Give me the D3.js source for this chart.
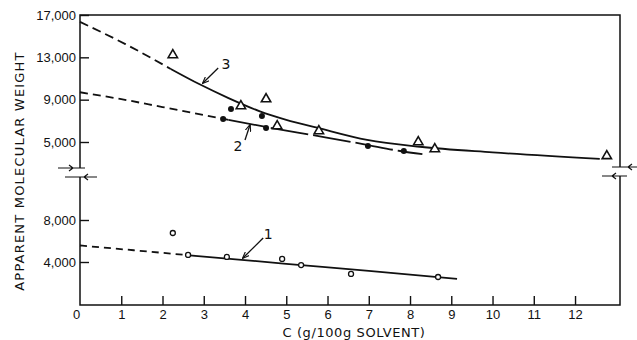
<!DOCTYPE html>
<html lang="en">
<head>
<meta charset="utf-8">
<title>Apparent molecular weight</title>
<script src="https://cdn.jsdelivr.net/npm/d3@7"></script>
<style>
  body { margin: 0; background: #fff; }
  svg { display: block; font-family: "DejaVu Sans", sans-serif; }
  .tick text { font-size: 13px; fill: #111; }
  .tick line { stroke: #111; stroke-width: 1.4; }
</style>
</head>
<body>
<script>
// x ticks
var xTicks = [0, 1, 2, 3, 4, 5, 6, 7, 8, 9, 10, 11, 12];
var yTopTicks = [5000, 9000, 13000, 17000];
var yBotTicks = [4000, 8000];

// curve 3 (upper panel)
var curve3Dash = [[0, 16350], [1.1, 14250], [2.2, 11900]];
var curve3Solid = [[2.2, 11900], [2.9, 10450], [3.6, 9150], [4.36, 7900], [5, 7100], [5.75, 6350], [6.96, 5200], [8.24, 4550], [10, 4020], [12.6, 3400]];
// curve 2 (upper panel)
var curve2Dash = [[0, 9700], [1, 9050], [2, 8300], [3, 7550], [3.6, 7100]];
var curve2Long = [[3.6, 7100], [4.65, 6320], [5.62, 5660], [6.86, 4810], [7.76, 4150], [8.3, 3850]];
// curve 1 (lower panel)
var curve1Dash = [[0, 5570], [1.3, 5120], [2.65, 4640]];
var curve1Solid = [[2.65, 4640], [5, 3830], [7, 3160], [9.14, 2400]];

// measured points
var triangles = [[2.25, 13220], [3.9, 8400], [4.51, 9060], [4.78, 6510], [5.79, 6040], [8.2, 5000], [8.6, 4340], [12.77, 3680]];
var dots = [[3.47, 7170], [3.66, 8120], [4.41, 7450], [4.51, 6320], [6.98, 4620], [7.85, 4150]];
var circles = [[2.25, 6760], [2.62, 4670], [3.56, 4480], [4.9, 4290], [5.36, 3710], [6.57, 2860], [8.68, 2570]];

var w = 637, h = 340;

var x = d3.scaleLinear().domain([0, 13.09]).range([80, 620]);
var yTop = d3.scaleLinear().domain([5000, 17000]).range([142, 15]);
var yBot = d3.scaleLinear().domain([0, 8000]).range([304, 220]);

var svg = d3.select("body").append("svg")
  .attr("width", w)
  .attr("height", h);

// frame
var frame = svg.append("g")
  .attr("stroke", "#111")
  .attr("stroke-width", 1.5)
  .attr("fill", "none");
frame.append("path").attr("d", "M80,168V15H620V167");
frame.append("path").attr("d", "M80,177V305H620V176");

// axis break marks
var brk = svg.append("g").attr("stroke", "#111").attr("stroke-width", 1.2).attr("fill", "none");
brk.append("path").attr("d", "M58,168H85 M69,165L73,168L69,171");
brk.append("path").attr("d", "M65,177H97 M88,174L84,177L88,180");
brk.append("path").attr("d", "M612,167H637 M632,164L628,167L632,170");
brk.append("path").attr("d", "M602,176H627 M616,173L612,176L616,179");

// axes
var gx = svg.append("g")
  .attr("transform", "translate(0,305)")
  .call(d3.axisBottom(x).tickValues(xTicks).tickSize(-9).tickPadding(5)
    .tickFormat(function(d) { return d; }));
gx.select(".domain").remove();
gx.selectAll(".tick").filter(function(d) { return d === 0; }).select("line").remove();
gx.selectAll(".tick").filter(function(d) { return d === 0; }).select("text").attr("dx", "-4");

var gyTop = svg.append("g")
  .attr("transform", "translate(80,0)")
  .call(d3.axisLeft(yTop).tickValues(yTopTicks).tickSize(-9).tickPadding(4)
    .tickFormat(d3.format(",")));
gyTop.select(".domain").remove();

var gyBot = svg.append("g")
  .attr("transform", "translate(80,0)")
  .call(d3.axisLeft(yBot).tickValues(yBotTicks).tickSize(-9).tickPadding(4)
    .tickFormat(d3.format(",")));
gyBot.select(".domain").remove();

// titles
svg.append("text")
  .attr("x", 354).attr("y", 337)
  .attr("text-anchor", "middle")
  .style("font-size", "13px")
  .style("letter-spacing", "0.6px")
  .attr("fill", "#111")
  .text("C (g/100g SOLVENT)");

svg.append("text")
  .attr("transform", "translate(24,171) rotate(-90)")
  .attr("text-anchor", "middle")
  .style("font-size", "13px")
  .style("letter-spacing", "1.2px")
  .attr("fill", "#111")
  .text("APPARENT MOLECULAR WEIGHT");

// curves
function lineFor(ys) {
  return d3.line()
    .x(function(d) { return x(d[0]); })
    .y(function(d) { return ys(d[1]); })
    .curve(d3.curveMonotoneX);
}
var curves = [
  { pts: curve3Dash, y: yTop, dash: "9,5" },
  { pts: curve3Solid, y: yTop, dash: null },
  { pts: curve2Dash, y: yTop, dash: "8,5" },
  { pts: curve2Long, y: yTop, dash: "38,5" },
  { pts: curve1Dash, y: yBot, dash: "7,5" },
  { pts: curve1Solid, y: yBot, dash: null }
];
svg.append("g").selectAll("path")
  .data(curves)
  .enter()
  .append("path")
  .attr("d", function(d) { return lineFor(d.y)(d.pts); })
  .attr("fill", "none")
  .attr("stroke", "#111")
  .attr("stroke-width", 1.8)
  .attr("stroke-dasharray", function(d) { return d.dash; });

// points
svg.append("g").selectAll("path")
  .data(triangles)
  .enter()
  .append("path")
  .attr("d", d3.symbol().type(d3.symbolTriangle).size(38))
  .attr("transform", function(d) { return "translate(" + x(d[0]) + "," + yTop(d[1]) + ")"; })
  .attr("fill", "#fff")
  .attr("stroke", "#111")
  .attr("stroke-width", 1.6);

svg.append("g").selectAll("circle")
  .data(dots)
  .enter()
  .append("circle")
  .attr("cx", function(d) { return x(d[0]); })
  .attr("cy", function(d) { return yTop(d[1]); })
  .attr("r", 3)
  .attr("fill", "#111");

svg.append("g").selectAll("circle")
  .data(circles)
  .enter()
  .append("circle")
  .attr("cx", function(d) { return x(d[0]); })
  .attr("cy", function(d) { return yBot(d[1]); })
  .attr("r", 2.5)
  .attr("fill", "#fff")
  .attr("stroke", "#111")
  .attr("stroke-width", 1.3);

// curve labels with arrows
var defs = svg.append("defs");
defs.append("marker")
  .attr("id", "head")
  .attr("viewBox", "0 0 10 10")
  .attr("refX", 9).attr("refY", 5)
  .attr("markerWidth", 7).attr("markerHeight", 7)
  .attr("markerUnits", "userSpaceOnUse")
  .attr("orient", "auto")
  .append("path")
  .attr("d", "M0,1L10,5L0,9")
  .attr("fill", "none")
  .attr("stroke", "#111")
  .attr("stroke-width", 1.6);

var labels = [
  { t: "3", lx: 3.54, lv: 12370, from: [3.35, 11990], to: [2.98, 10570], y: yTop },
  { t: "2", lx: 3.83, lv: 4620, from: [4.0, 5190], to: [4.12, 6605], y: yTop },
  { t: "1", lx: 4.56, lv: 6670, from: [4.44, 6290], to: [3.95, 4380], y: yBot }
];
var lab = svg.append("g");
lab.selectAll("line")
  .data(labels)
  .enter()
  .append("line")
  .attr("x1", function(d) { return x(d.from[0]); })
  .attr("y1", function(d) { return d.y(d.from[1]); })
  .attr("x2", function(d) { return x(d.to[0]); })
  .attr("y2", function(d) { return d.y(d.to[1]); })
  .attr("stroke", "#111")
  .attr("stroke-width", 1.3)
  .attr("marker-end", "url(#head)");
lab.selectAll("text")
  .data(labels)
  .enter()
  .append("text")
  .attr("x", function(d) { return x(d.lx); })
  .attr("y", function(d) { return d.y(d.lv); })
  .attr("dy", "0.36em")
  .attr("text-anchor", "middle")
  .style("font-size", "14px")
  .attr("fill", "#111")
  .text(function(d) { return d.t; });
</script>
</body>
</html>
